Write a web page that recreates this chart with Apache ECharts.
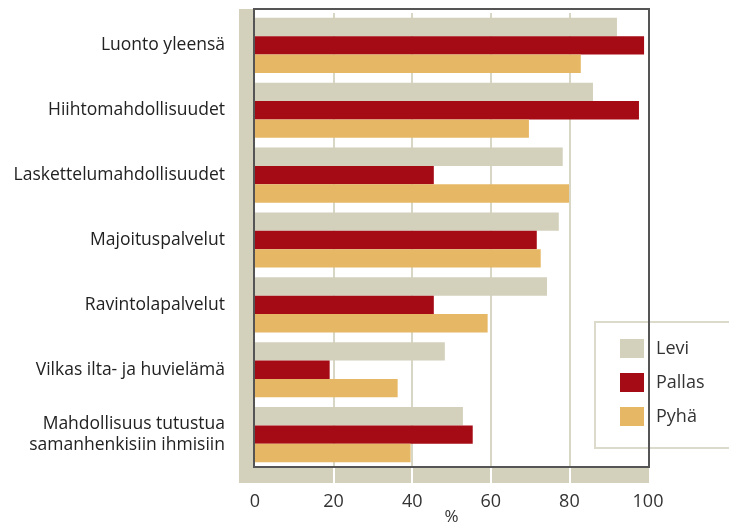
<!DOCTYPE html>
<html>
<head>
<meta charset="utf-8">
<script src="https://cdn.jsdelivr.net/npm/echarts@6/dist/echarts.min.js"></script>
<style>
  html, body { margin: 0; padding: 0; background: #fff; }
  #chart { width: 729px; height: 524px; }
</style>
</head>
<body>
<div id="chart"></div>
<script>
const categories = [
  "Luonto yleensä",
  "Hiihtomahdollisuudet",
  "Laskettelumahdollisuudet",
  "Majoituspalvelut",
  "Ravintolapalvelut",
  "Vilkas ilta- ja huvielämä",
  "Mahdollisuus tutustua\nsamanhenkisiin ihmisiin"
];
const levi = [92.1, 86.0, 78.3, 77.3, 74.3, 48.3, 52.9];
const pallas = [99.0, 97.7, 45.5, 71.7, 45.5, 19.0, 55.4];
const pyha = [82.9, 69.7, 79.9, 72.7, 59.2, 36.3, 39.6];
const xTicks = [0, 20, 40, 60, 80, 100];

const font = "'Open Sans', 'Noto Sans', sans-serif";

let chart = echarts.init(document.getElementById("chart"));

const option = {
  animation: false,
  textStyle: { fontFamily: font },
  grid: { left: 255, right: 81, top: 13, bottom: 57, outerBoundsMode: "none", containLabel: false },
  legend: {
    orient: "vertical",
    left: 595,
    top: 322,
    padding: [17, 70, 22, 25],
    itemWidth: 24,
    itemHeight: 19,
    itemGap: 15,
    backgroundColor: "#fff",
    borderColor: "#dcdaca",
    borderWidth: 2,
    icon: "rect",
    textStyle: { fontSize: 18, color: "#333", padding: [0, 0, 0, 7] },
    data: ["Levi", "Pallas", "Pyhä"]
  },
  xAxis: {
    type: "value",
    z: 5,
    min: 0,
    max: 100,
    interval: 20,
    name: "%",
    nameLocation: "middle",
    nameGap: 50,
    nameMoveOverlap: false,
    nameTextStyle: { fontSize: 17, color: "#333", verticalAlign: "middle" },
    axisLine: { show: false },
    axisTick: {
      show: true,
      customValues: [20, 40, 60, 80],
      length: 16,
      lineStyle: { color: "#fff", width: 2 }
    },
    axisLabel: {
      customValues: xTicks,
      fontSize: 18,
      color: "#333",
      margin: 26
    },
    splitLine: { lineStyle: { color: "#d8d6c4", width: 2 } }
  },
  yAxis: {
    type: "category",
    data: categories,
    inverse: true,
    axisLine: { show: false },
    axisTick: { show: false },
    axisLabel: {
      fontSize: 17.5,
      color: "#222",
      margin: 30,
      lineHeight: 21
    }
  },
  graphic: [
    // beige wall & floor
    { type: "rect", z: -1, shape: { x: 239, y: 9, width: 15, height: 474 }, style: { fill: "#d3d0bb" } },
    { type: "rect", z: -1, shape: { x: 239, y: 468, width: 410, height: 15 }, style: { fill: "#d3d0bb" } },
    // frame
    { type: "rect", z: 10, shape: { x: 254, y: 9, width: 395, height: 458 }, style: { fill: null, stroke: "#555", lineWidth: 2 } }
  ],
  series: [
    { name: "Levi", type: "bar", z: 6, data: levi, itemStyle: { color: "#d3d0bb" }, barGap: "0%", barCategoryGap: "15%" },
    { name: "Pallas", type: "bar", z: 6, data: pallas, itemStyle: { color: "#a50b15" } },
    { name: "Pyhä", type: "bar", z: 6, data: pyha, itemStyle: { color: "#e6b866" } }
  ]
};
chart.setOption(option);
</script>
</body>
</html>
